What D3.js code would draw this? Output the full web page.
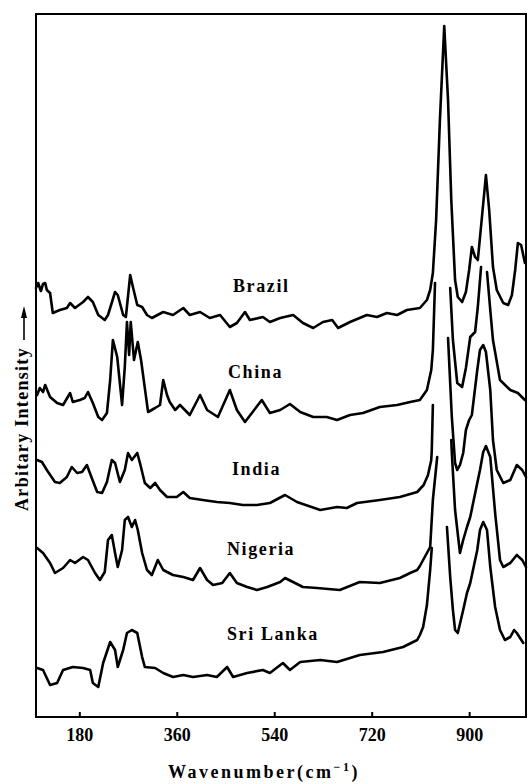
<!DOCTYPE html>
<html>
<head>
<meta charset="utf-8">
<script src="https://cdn.jsdelivr.net/npm/d3@7"></script>
<style>
    body { margin: 0; background: #fff; }
    text { font-family: "Liberation Serif", "DejaVu Serif", serif; font-weight: bold; fill: #000; }
</style>
</head>
<body>
<div id="graph"></div>
<script>
/*
    Data: [wavenumber, intensity], null = line hidden behind the curve above
*/
var sampleNames = ["Brazil", "China", "India", "Nigeria", "Sri Lanka"]

var brazil = [[100,429],[104,434],[109,426],[113,433],[117,434],[120,427],[126,424],[131,404],[144,407],
    [157,409],[163,414],[172,409],[187,415],[196,420],[205,415],[215,402],[227,397],[233,402],[246,425],
    [251,422],[261,402],[266,400],[274,442],[279,430],[287,412],[296,410],[305,402],[314,399],[335,405],
    [353,402],[372,409],[384,402],[403,405],[421,399],[440,402],[458,390],[471,394],[486,405],[495,397],
    [519,400],[532,395],[551,399],[575,402],[593,394],[612,389],[630,395],[647,397],[658,389],[680,395],
    [711,402],[730,400],[748,404],[767,402],[785,407],[809,409],[822,417],[828,427],[833,444],[839,497],
    [846,597],[854,691],[861,617],[867,517],[874,437],[879,420],[887,415],[894,425],[900,447],[905,470],
    [911,460],[916,457],[924,502],[931,542],[937,507],[944,450],[951,427],[963,414],[972,412],[979,422],
    [985,447],[990,474],[996,472],[1003,454]]

var china = [[102,322],[107,329],[113,325],[117,332],[126,320],[139,314],[150,312],[163,324],[168,315],
    [181,317],[190,319],[196,325],[205,314],[215,300],[222,297],[231,304],[237,337],[242,377],[250,360],
    [259,312],[264,350],[268,395],[272,362],[275,395],[281,357],[288,375],[294,357],[307,305],[320,309],
    [329,312],[335,337],[342,322],[347,315],[357,307],[366,312],[384,302],[403,322],[416,307],[436,300],
    [458,327],[471,307],[486,295],[517,317],[532,304],[551,307],[569,313],[588,305],[612,300],[637,300],
    [656,297],[680,302],[704,304],[735,310],[767,312],[791,315],[809,317],[822,327],[830,347],[833,367],
    [837,434], null,
    [865,429],[870,377],[878,334],[887,330],[894,349],[902,380],[911,385],[916,410],[922,450], null,
    [933,445],[939,407],[944,377],[957,337],[976,327],[990,324],[1003,317]]

var india = [[102,257],[111,255],[120,247],[135,235],[144,234],[157,240],[166,250],[176,244],[185,245],
    [194,252],[203,239],[213,225],[222,224],[231,235],[240,257],[246,254],[255,235],[264,247],[270,264],
    [277,257],[287,264],[292,254],[301,234],[311,229],[320,234],[329,227],[342,220],[360,220],[372,225],
    [384,219],[408,217],[434,215],[458,214],[482,212],[508,212],[532,214],[560,222],[582,215],[625,207],
    [656,210],[674,209],[693,214],[735,217],[772,220],[804,225],[816,232],[824,242],[830,257],[831,267],
    [833,312], null,
    [861,379],[868,300],[874,254],[878,247],[883,252],[889,264],[894,287],[900,297],[905,302],[915,347],
    [920,367],[926,372],[931,365],[939,327],[944,277],[951,247],[963,234],[976,237],[988,252],[998,247],
    [1005,240]]

var nigeria = [[102,169],[113,164],[126,154],[135,144],[150,149],[163,157],[172,154],[187,160],[196,157],
    [209,144],[218,137],[227,145],[233,177],[240,182],[246,164],[251,150],[259,167],[264,197],[270,200],
    [277,190],[283,197],[288,187],[296,164],[305,147],[314,142],[325,157],[335,147],[353,142],[372,140],
    [390,137],[403,149],[416,137],[427,132],[444,134],[458,144],[471,134],[490,130],[508,127],[527,130],
    [551,135],[560,139],[593,130],[619,129],[661,127],[698,135],[735,134],[772,139],[791,144],[804,147],
    [809,151],[815,157],[822,164],[828,170],[833,217],[841,260], null,
    [867,277],[868,264],[874,207],[883,164],[889,177],[896,190],[902,200],[920,247],[926,265],[931,271],
    [939,260],[948,204],[957,157],[963,150],[976,154],[988,162],[998,157],[1005,150]]

var sriLanka = [[102,49],[113,47],[126,32],[139,34],[150,47],[168,50],[187,49],[200,47],[205,34],[215,30],
    [224,54],[237,75],[246,67],[251,50],[261,67],[268,84],[277,87],[287,84],[296,60],[301,50],[320,49],
    [335,44],[353,40],[372,42],[390,40],[416,42],[434,40],[453,50],[464,40],[490,44],[519,47],[532,44],
    [556,54],[569,47],[588,55],[625,57],[656,55],[698,62],[741,65],[778,70],[804,77],[809,82],[815,90],
    [822,112],[828,147],[831,169], null,
    [859,190],[865,140],[870,107],[874,87],[879,84],[889,107],[896,124],[902,134],[915,167],[920,187],
    [926,195],[933,187],[939,150],[948,110],[957,87],[966,77],[976,80],[983,87],[988,84],[1000,74]]

var spectra = [brazil, china, india, nigeria, sriLanka]

var xTicks = [180, 360, 540, 720, 900]

/*
    Set the dimensions and margins of the graph
*/
var margin = {top: 14, right: 3, bottom: 67, left: 36},
    width = 529 - margin.left - margin.right,
    height = 784 - margin.top - margin.bottom

var svg = d3.select("#graph").append("svg")
            .attr("width", 529)
            .attr("height", 784)

var g = svg.append("g")
           .attr("transform", "translate(" + margin.left + "," + margin.top + ")")

/*
    Scales
*/
var x = d3.scaleLinear()
          .domain([100, 1005])
          .range([0, width])

var y = d3.scaleLinear()
          .domain([0, 703])
          .range([height, 0])

/*
    Spectra
*/
var line = d3.line()
    .defined(function(d) { return d !== null })
    .x(function(d) { return x(d[0]) })
    .y(function(d) { return y(d[1]) })

g.selectAll(".spectrum")
    .data(spectra)
    .enter().append("path")
    .attr("class", "spectrum")
    .attr("d", line)
    .attr("fill", "none")
    .attr("stroke", "#000")
    .attr("stroke-width", 2.6)
    .attr("stroke-linejoin", "round")
    .attr("stroke-linecap", "round")

// sample labels (left edge, baseline) in pixels
var labelPos = [[197, 278], [192, 364], [196, 461], [191, 541], [191, 626]]

g.selectAll(".label")
    .data(sampleNames)
    .enter().append("text")
    .attr("class", "label")
    .attr("x", function(d, i) { return labelPos[i][0] })
    .attr("y", function(d, i) { return labelPos[i][1] })
    .attr("font-size", "18px")
    .attr("letter-spacing", "1.6px")
    .text(function(d) { return d })

/*
    Frame and axis
*/
g.append("rect")
    .attr("width", width)
    .attr("height", height)
    .attr("fill", "none")
    .attr("stroke", "#000")
    .attr("stroke-width", 2)

var xAxis = g.append("g")
    .attr("transform", "translate(0," + height + ")")
    .call(d3.axisBottom(x)
            .tickValues(xTicks)
            .tickSizeInner(-5)
            .tickSizeOuter(0)
            .tickPadding(11))

xAxis.select(".domain").remove()
xAxis.selectAll(".tick line").attr("stroke", "#000").attr("stroke-width", 2)
xAxis.selectAll(".tick text")
    .attr("font-size", "18px")
    .attr("font-family", "Liberation Serif, serif")
    .attr("font-weight", "bold")

// axis titles
var title = svg.append("text")
    .attr("x", 264)
    .attr("y", 778)
    .attr("text-anchor", "middle")
    .attr("font-size", "18px")
    .attr("letter-spacing", "2.5px")

title.append("tspan").text("Wavenumber(cm")
title.append("tspan").attr("font-size", "12px").attr("dy", "-7").text("\u22121")
title.append("tspan").attr("dy", "7").text(")")

svg.append("text")
    .attr("transform", "translate(28,429) rotate(-90)")
    .attr("text-anchor", "middle")
    .attr("font-size", "18px")
    .attr("letter-spacing", "1.3px")
    .text("Arbitary Intensity")

svg.append("line")
    .attr("x1", 24).attr("y1", 340)
    .attr("x2", 24).attr("y2", 314)
    .attr("stroke", "#000")
    .attr("stroke-width", 1.6)

svg.append("path")
    .attr("d", "M24,306 L21,318 L27,318 Z")
    .attr("fill", "#000")
</script>
</body>
</html>
